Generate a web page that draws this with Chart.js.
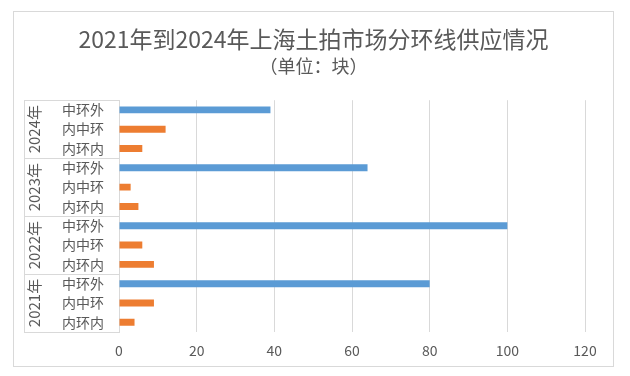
<!DOCTYPE html>
<html><head><meta charset="utf-8">
<script src="https://cdn.jsdelivr.net/npm/chart.js@4"></script>
<style>
html,body{margin:0;padding:0;background:#fff;}
#box{position:absolute;left:13px;top:11px;width:599px;height:354px;border:1px solid #d9d9d9;}
canvas{display:block;}
</style></head>
<body>
<div id="box"><canvas id="c" width="599" height="354"></canvas></div>
<script>
const years = ['2024年', '2023年', '2022年', '2021年'];
const rings = ['中环外', '内中环', '内环内'];
const outerRing = [39, 64, 100, 80];      // 中环外
const innerMiddleRing = [12, 3, 6, 9];    // 内中环
const innerRing = [6, 5, 9, 4];           // 内环内
const xTicks = [0, 20, 40, 60, 80, 100, 120];

const ringValues = [outerRing, innerMiddleRing, innerRing];
const ringColors = ['#5B9BD5', '#ED7D31', '#ED7D31'];
const labels = [], values = [], colors = [];
years.forEach((y, yi) => {
  rings.forEach((r, ri) => {
    labels.push(r);
    values.push(ringValues[ri][yi]);
    colors.push(ringColors[ri]);
  });
});

const FONT = '"Noto Sans CJK SC", "Noto Sans", sans-serif';
const GRAY = '#d9d9d9';
const TXT = '#595959';

const groupPlugin = {
  id: 'groups',
  afterDraw(chart) {
    const ctx = chart.ctx;
    const ys = chart.scales.y;
    const left = 10, right = ys.right;
    const n = rings.length;
    const step = ys.getPixelForValue(1) - ys.getPixelForValue(0);
    ctx.save();
    ctx.strokeStyle = GRAY;
    ctx.lineWidth = 1;
    const top = ys.getPixelForValue(0) - step / 2;
    const bottom = ys.getPixelForValue(labels.length - 1) + step / 2;
    ctx.beginPath();
    ctx.moveTo(left + 0.5, top);
    ctx.lineTo(left + 0.5, bottom);
    for (let g = 0; g <= years.length; g++) {
      const yy = Math.round(ys.getPixelForValue(g * n) - step / 2) + 0.5;
      ctx.moveTo(left, yy);
      ctx.lineTo(right, yy);
    }
    ctx.stroke();
    ctx.fillStyle = TXT;
    ctx.font = '15px ' + FONT;
    ctx.textAlign = 'center';
    ctx.textBaseline = 'middle';
    years.forEach((y, g) => {
      const cy = (ys.getPixelForValue(g * n) + ys.getPixelForValue(g * n + n - 1)) / 2;
      ctx.save();
      ctx.translate(20, cy);
      ctx.rotate(-Math.PI / 2);
      ctx.fillText(y, 0, 0);
      ctx.restore();
    });
    ctx.restore();
  }
};

new Chart(document.getElementById('c'), {
  type: 'bar',
  data: {
    labels: labels,
    datasets: [{
      data: values,
      backgroundColor: colors,
      categoryPercentage: 1,
      barPercentage: 0.36
    }]
  },
  options: {
    indexAxis: 'y',
    responsive: false,
    animation: false,
    layout: { padding: { left: 0, right: 0, top: 0, bottom: 0 } },
    plugins: {
      legend: { display: false },
      tooltip: { enabled: false },
      title: {
        display: true,
        text: '2021年到2024年上海土拍市场分环线供应情况',
        color: TXT,
        font: { family: FONT, size: 23, weight: 'normal' },
        padding: { top: 13, bottom: 0 }
      },
      subtitle: {
        display: true,
        text: '（单位：块）',
        color: TXT,
        font: { family: FONT, size: 18, weight: 'normal' },
        padding: { top: 3, bottom: 23 }
      }
    },
    scales: {
      x: {
        min: 0, max: 120,
        afterBuildTicks(scale) { scale.ticks = xTicks.map(v => ({ value: v })); },
        afterFit(scale) { scale.height = 34; scale.paddingRight = 28; },
        grid: { color: GRAY, drawTicks: false },
        border: { display: false },
        ticks: { color: TXT, font: { family: FONT, size: 14 }, padding: 10 }
      },
      y: {
        afterFit(scale) { scale.width = 105; },
        grid: { display: false, drawTicks: false },
        border: { display: true, color: GRAY },
        ticks: { color: TXT, font: { family: FONT, size: 14 }, padding: 15, autoSkip: false }
      }
    }
  },
  plugins: [groupPlugin]
});
</script>
</body></html>
